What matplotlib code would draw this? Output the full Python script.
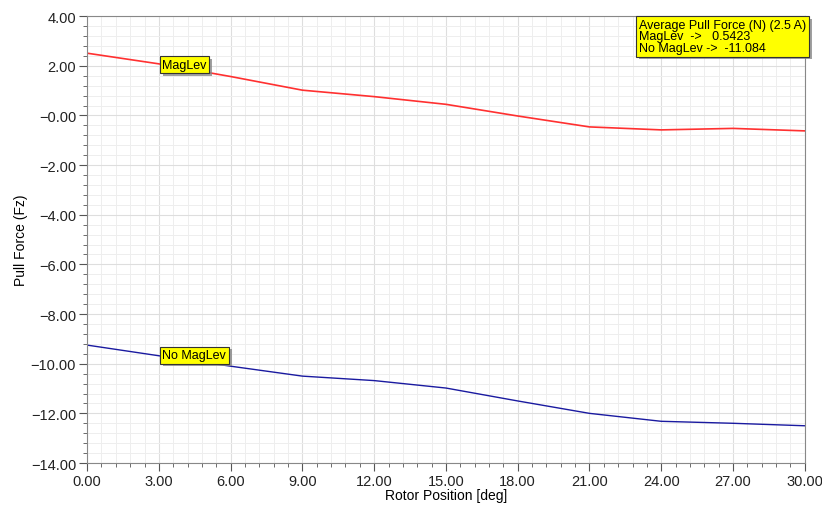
"""Pull force vs rotor position, MagLev vs No MagLev."""
import matplotlib.pyplot as plt
import matplotlib.patheffects as pe
import numpy as np
from matplotlib.ticker import FuncFormatter, MultipleLocator

plt.rcParams["font.family"] = ["Liberation Sans", "DejaVu Sans"]

rotor_deg = [0, 3, 6, 9, 12, 15, 18, 21, 24, 27, 30]
maglev = [2.51, 2.08, 1.57, 1.02, 0.76, 0.45, -0.02, -0.46, -0.58, -0.52, -0.62]
no_maglev = [-9.25, -9.68, -10.1, -10.5, -10.68, -10.98, -11.5, -12.0, -12.32, -12.4, -12.5]

avg_maglev = 0.5423
avg_no_maglev = -11.084


def fmt_y(v, _pos):
    s = f"{v:.2f}"
    if abs(v) < 1e-9:
        s = "-0.00"
    return s.replace("-", "\u2212")


def fmt_x(v, _pos):
    return f"{abs(v):.2f}" if abs(v) < 1e-9 else f"{v:.2f}"


fig = plt.figure(figsize=(8.22, 5.06), dpi=100)
ax = fig.add_axes([0.106, 0.083, 0.873, 0.883])

ax.plot(rotor_deg, maglev, color="#ff3030", linewidth=1.2)
ax.plot(rotor_deg, no_maglev, color="#1a1aa0", linewidth=1.0)

ax.set_xlim(0, 30)
ax.set_ylim(-14, 4)
ax.xaxis.set_major_locator(MultipleLocator(3))
ax.xaxis.set_minor_locator(MultipleLocator(0.6))
ax.yaxis.set_major_locator(MultipleLocator(2))
ax.yaxis.set_minor_locator(MultipleLocator(0.4))
ax.xaxis.set_major_formatter(FuncFormatter(fmt_x))
ax.yaxis.set_major_formatter(FuncFormatter(fmt_y))

ax.grid(True, which="major", color="#dedede", linewidth=0.8)
ax.grid(True, which="minor", color="#eeeeee", linewidth=0.7)
ax.set_axisbelow(True)

ax.tick_params(which="major", direction="out", length=6, width=0.8,
               color="#555555", labelsize=10.5, labelcolor="#222222", pad=2)
ax.tick_params(which="minor", direction="out", length=3, width=0.6, color="#555555")
for side in ["top", "right", "left", "bottom"]:
    ax.spines[side].set_color("#888888")

ax.set_xlabel("Rotor Position [deg]", fontsize=10, labelpad=0)
ax.set_ylabel("Pull Force (Fz)", fontsize=10, labelpad=2)

shadow = [pe.SimplePatchShadow(offset=(2, -2), shadow_rgbFace="#888888", alpha=0.8),
          pe.Normal()]
box = dict(boxstyle="square,pad=0.2", facecolor="#ffff00", edgecolor="#333333",
           linewidth=0.8)
for x, y, txt in [(3.15, 2.05, "MagLev"), (3.15, -9.65, "No MagLev")]:
    t = ax.text(x, y, txt, fontsize=9, va="center", bbox=box, zorder=5)
    t.get_bbox_patch().set_path_effects(shadow)

legend_txt = (
    "Average Pull Force (N) (2.5 A)\n"
    f"MagLev  ->   {avg_maglev}\n"
    f"No MagLev ->  {avg_no_maglev}"
)
t = ax.text(0.769, 0.993, legend_txt, transform=ax.transAxes, fontsize=9,
            va="top", ha="left", linespacing=0.9, zorder=6,
            bbox=dict(boxstyle="square,pad=0.25", facecolor="#ffff00",
                      edgecolor="#333333", linewidth=0.8))
t.get_bbox_patch().set_path_effects(shadow)

fig.savefig("out.png", dpi=100)
